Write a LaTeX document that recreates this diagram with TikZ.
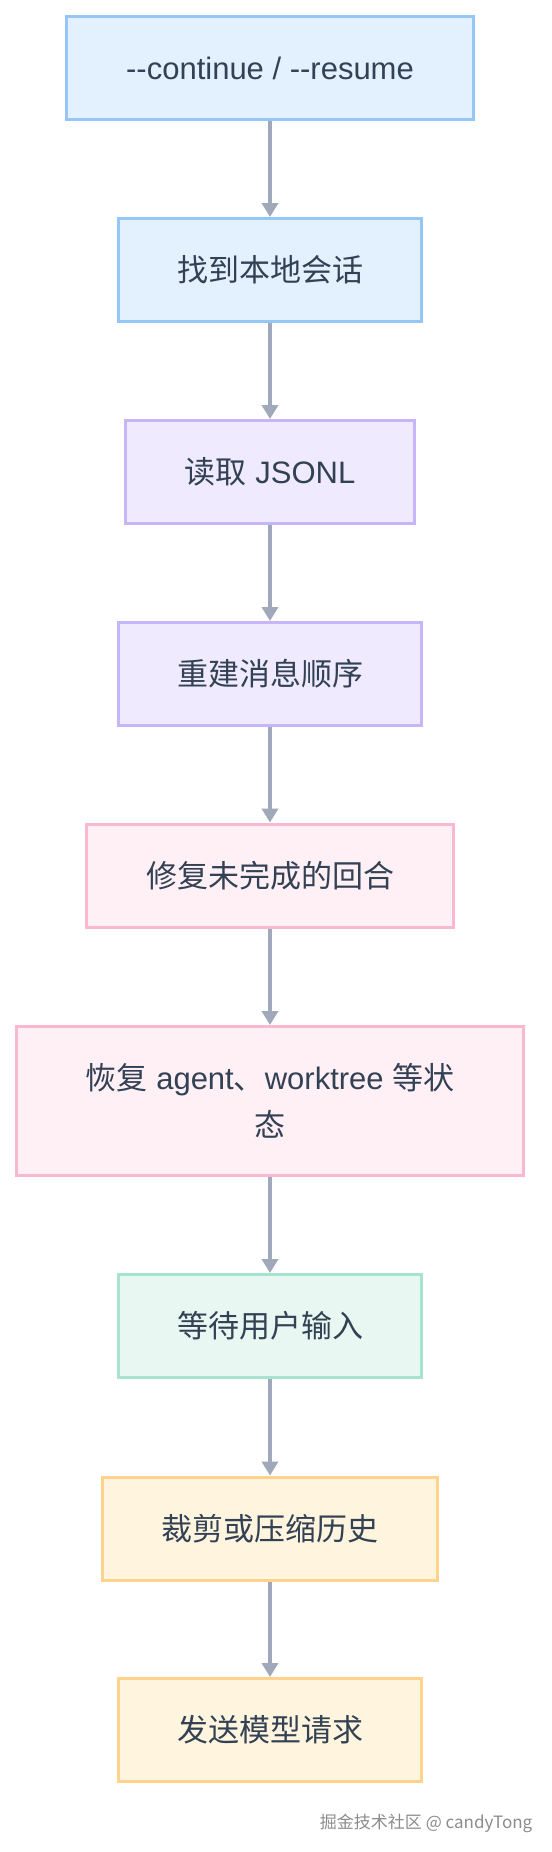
\documentclass[tikz,border=0pt]{standalone}
\usepackage{fontspec}
\setmainfont{Liberation Sans}
\newfontfamily\cjk{Noto Sans CJK SC}
\usetikzlibrary{arrows.meta}

\definecolor{txt}{HTML}{334155}
\definecolor{edge}{HTML}{A0A9BA}
\definecolor{bluefill}{HTML}{E3F0FD}
\definecolor{blueline}{HTML}{96C6F5}
\definecolor{violetfill}{HTML}{EFEAFD}
\definecolor{violetline}{HTML}{C6B6F8}
\definecolor{pinkfill}{HTML}{FFF0F6}
\definecolor{pinkline}{HTML}{F9B8D0}
\definecolor{greenfill}{HTML}{E8F7F1}
\definecolor{greenline}{HTML}{A9E2CF}
\definecolor{orangefill}{HTML}{FFF4DE}
\definecolor{orangeline}{HTML}{FFD38C}
\newcommand{\dd}{\mbox{-}\mbox{-}}

\begin{document}
\begin{tikzpicture}[x=0.75pt,y=-0.75pt,
  box/.style={draw,line width=2.25pt,inner sep=0pt,minimum height=77.25pt,
    text=txt,align=center,font=\fontsize{23.25}{35}\selectfont},
  bluebox/.style={box,fill=bluefill,draw=blueline},
  violetbox/.style={box,fill=violetfill,draw=violetline},
  pinkbox/.style={box,fill=pinkfill,draw=pinkline},
  greenbox/.style={box,fill=greenfill,draw=greenline},
  orangebox/.style={box,fill=orangefill,draw=orangeline},
  flow/.style={draw=edge,line width=3pt,-{Triangle[width=12pt,length=10.5pt]}}]
\useasboundingbox (0,0) rectangle (552,1852);
\fill[white] (0,0) rectangle (552,1852);

\draw (270,68)node[bluebox,minimum width=305.25pt](a){\dd continue / \dd resume};
\draw (270,270)node[bluebox,minimum width=227.25pt](b){\cjk 找到本地会话};
\draw (270,472)node[violetbox,minimum width=216.75pt](c){{\cjk 读取} JSONL};
\draw (270,674)node[violetbox,minimum width=227.25pt](d){\cjk 重建消息顺序};
\draw (270,875.5)node[pinkbox,minimum width=275.25pt](e){\cjk 修复未完成的回合};
\draw (270,1101)node[pinkbox,minimum width=380.25pt,minimum height=111.75pt](f){{\cjk 恢复} agent{\cjk 、}worktree {\cjk 等状}\\{\cjk 态}};
\draw (270,1326)node[greenbox,minimum width=227.25pt](g){\cjk 等待用户输入};
\draw (270,1528.5)node[orangebox,minimum width=251.25pt](h){\cjk 裁剪或压缩历史};
\draw (270,1730)node[orangebox,minimum width=227.25pt](i){\cjk 发送模型请求};

\draw[flow] (a) -- (b);
\draw[flow] (b) -- (c);
\draw[flow] (c) -- (d);
\draw[flow] (d) -- (e);
\draw[flow] (e) -- (f);
\draw[flow] (f) -- (g);
\draw[flow] (g) -- (h);
\draw[flow] (h) -- (i);

\draw (537,1823)node[anchor=east,text=black!45,font=\cjk\fontsize{12.75}{15}\selectfont](w){掘金技术社区 @ candyTong};
\end{tikzpicture}
\end{document}
